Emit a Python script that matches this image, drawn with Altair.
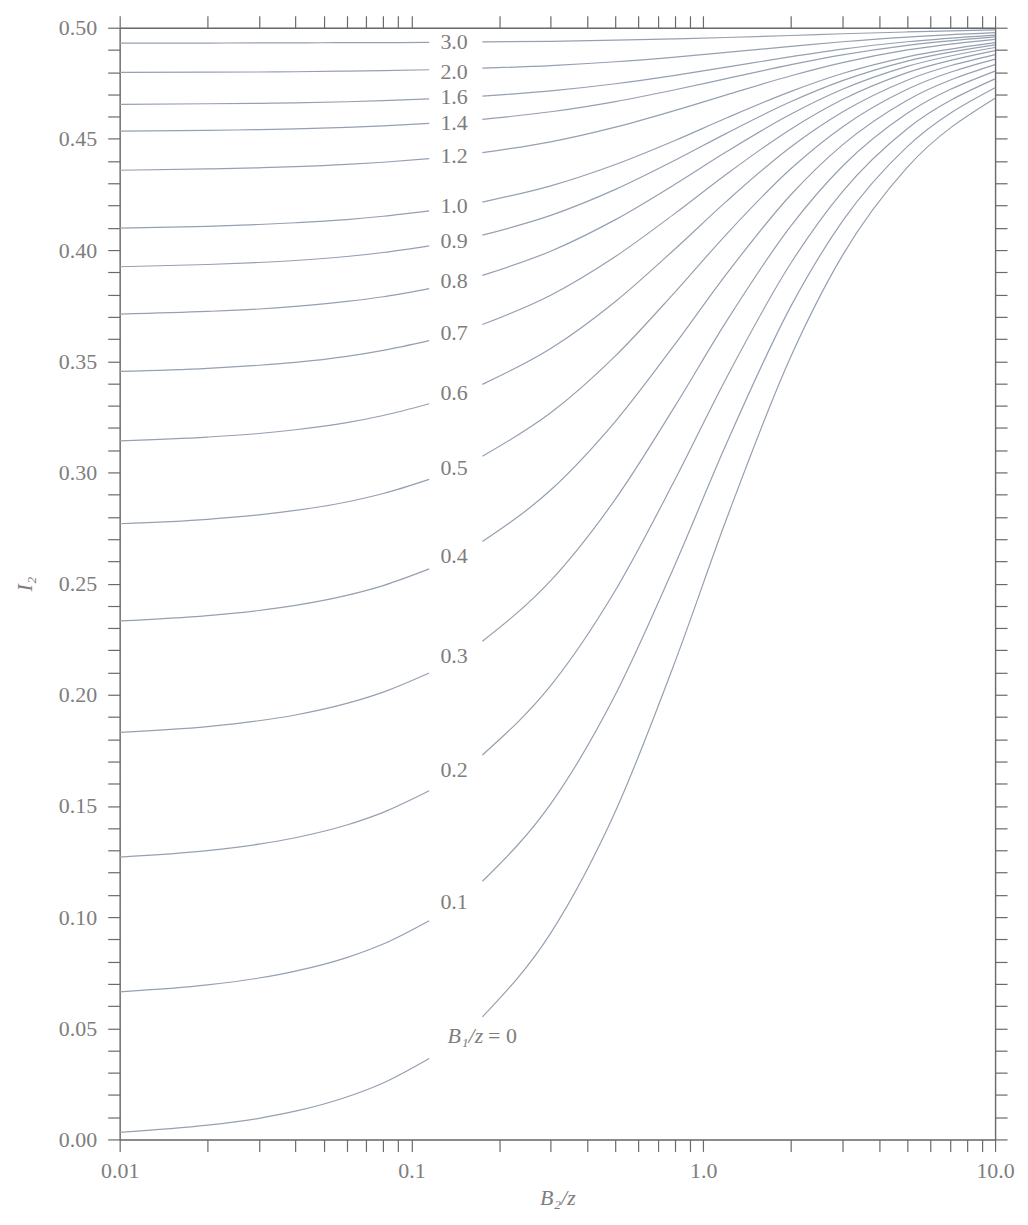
import altair as alt
import pandas as pd

# ---- data ----
B1_RATIOS = ["0", "0.1", "0.2", "0.3", "0.4", "0.5", "0.6", "0.7", "0.8",
             "0.9", "1.0", "1.2", "1.4", "1.6", "2.0", "3.0"]

# B2/z positions, left of the label gap and right of it
B2_LEFT = [0.01, 0.02, 0.03, 0.04, 0.06, 0.08, 0.115]
B2_RIGHT = [0.175, 0.3, 0.5, 0.8, 1.2, 2.0, 3.0, 5.0, 10.0]

I2_LEFT = [
    [0.0032, 0.0064, 0.0095, 0.0127, 0.0191, 0.0254, 0.0364],
    [0.0664, 0.0695, 0.0726, 0.0757, 0.0818, 0.0879, 0.0984],
    [0.1270, 0.1299, 0.1328, 0.1357, 0.1414, 0.1471, 0.1568],
    [0.1831, 0.1857, 0.1883, 0.1909, 0.1961, 0.2012, 0.2098],
    [0.2332, 0.2356, 0.2379, 0.2402, 0.2447, 0.2491, 0.2566],
    [0.2769, 0.2789, 0.2809, 0.2829, 0.2867, 0.2905, 0.2969],
    [0.3142, 0.3159, 0.3175, 0.3192, 0.3224, 0.3256, 0.3309],
    [0.3454, 0.3468, 0.3482, 0.3495, 0.3522, 0.3549, 0.3593],
    [0.3712, 0.3724, 0.3735, 0.3747, 0.3769, 0.3790, 0.3827],
    [0.3925, 0.3935, 0.3944, 0.3953, 0.3971, 0.3989, 0.4019],
    [0.4099, 0.4107, 0.4115, 0.4123, 0.4137, 0.4152, 0.4176],
    [0.4359, 0.4365, 0.4370, 0.4375, 0.4385, 0.4395, 0.4411],
    [0.4535, 0.4538, 0.4542, 0.4545, 0.4552, 0.4559, 0.4570],
    [0.4655, 0.4658, 0.4660, 0.4662, 0.4667, 0.4672, 0.4680],
    [0.4799, 0.4800, 0.4801, 0.4802, 0.4805, 0.4807, 0.4811],
    [0.4931, 0.4931, 0.4932, 0.4932, 0.4933, 0.4933, 0.4934],
]

I2_RIGHT = [
    [0.0551, 0.0928, 0.1476, 0.2148, 0.2789, 0.3524, 0.3976, 0.4372, 0.4683],
    [0.1161, 0.1509, 0.2001, 0.2585, 0.3129, 0.3749, 0.4130, 0.4465, 0.4730],
    [0.1729, 0.2041, 0.2470, 0.2968, 0.3425, 0.3943, 0.4263, 0.4546, 0.4770],
    [0.2241, 0.2513, 0.2880, 0.3298, 0.3679, 0.4110, 0.4377, 0.4615, 0.4805],
    [0.2689, 0.2921, 0.3230, 0.3577, 0.3892, 0.4250, 0.4473, 0.4674, 0.4834],
    [0.3073, 0.3268, 0.3524, 0.3811, 0.4071, 0.4367, 0.4554, 0.4723, 0.4859],
    [0.3396, 0.3557, 0.3769, 0.4005, 0.4219, 0.4465, 0.4621, 0.4764, 0.4879],
    [0.3665, 0.3797, 0.3971, 0.4165, 0.4341, 0.4545, 0.4677, 0.4798, 0.4897],
    [0.3886, 0.3995, 0.4137, 0.4296, 0.4442, 0.4612, 0.4723, 0.4826, 0.4911],
    [0.4067, 0.4156, 0.4273, 0.4404, 0.4525, 0.4668, 0.4762, 0.4850, 0.4923],
    [0.4216, 0.4289, 0.4385, 0.4493, 0.4594, 0.4714, 0.4794, 0.4869, 0.4933],
    [0.4438, 0.4487, 0.4553, 0.4628, 0.4698, 0.4784, 0.4843, 0.4900, 0.4948],
    [0.4588, 0.4622, 0.4668, 0.4721, 0.4771, 0.4834, 0.4878, 0.4921, 0.4959],
    [0.4692, 0.4716, 0.4748, 0.4786, 0.4823, 0.4870, 0.4904, 0.4937, 0.4967],
    [0.4818, 0.4830, 0.4847, 0.4868, 0.4889, 0.4916, 0.4937, 0.4958, 0.4978],
    [0.4936, 0.4939, 0.4944, 0.4950, 0.4956, 0.4965, 0.4973, 0.4981, 0.4990],
]

# curve labels (placed in the gap of each curve)
LABEL_TEXT = ["0.1", "0.2", "0.3", "0.4", "0.5", "0.6", "0.7", "0.8", "0.9",
              "1.0", "1.2", "1.4", "1.6", "2.0", "3.0"]
LABEL_B2 = [0.14] * 15
LABEL_I2 = [0.1070, 0.1660, 0.2175, 0.2625, 0.3020, 0.3355, 0.3625, 0.3860,
            0.4040, 0.4200, 0.4425, 0.4570, 0.4690, 0.4800, 0.4935]
ZERO_LABEL_B = ["B\u2081/z"]
ZERO_LABEL_REST = ["= 0"]
ZERO_LABEL_B2 = [0.133]
ZERO_LABEL_REST_B2 = [0.183]
ZERO_LABEL_I2 = [0.0466]

X_TICKS = [0.01, 0.02, 0.03, 0.04, 0.05, 0.06, 0.07, 0.08, 0.09,
           0.1, 0.2, 0.3, 0.4, 0.5, 0.6, 0.7, 0.8, 0.9,
           1, 2, 3, 4, 5, 6, 7, 8, 9, 10]
Y_TICKS = [round(0.01 * i, 2) for i in range(51)]

# ---- styling ----
FONT = "Liberation Serif, Times New Roman, serif"
AXIS_COLOR = "#6a6a6a"
TEXT_COLOR = "#7e7e7e"
CURVE_COLOR = "#95a0b0"
FS = 22

rows = []
for name, lv, rv in zip(B1_RATIOS, I2_LEFT, I2_RIGHT):
    for b, v in zip(B2_LEFT, lv):
        rows.append({"curve": name, "seg": name + "-L", "b": b, "i2": v})
    for b, v in zip(B2_RIGHT, rv):
        rows.append({"curve": name, "seg": name + "-R", "b": b, "i2": v})
df = pd.DataFrame(rows)

labels_df = pd.DataFrame({"label": LABEL_TEXT, "b": LABEL_B2, "i2": LABEL_I2})
zero_b_df = pd.DataFrame({"label": ZERO_LABEL_B, "b": ZERO_LABEL_B2, "i2": ZERO_LABEL_I2})
zero_rest_df = pd.DataFrame({"label": ZERO_LABEL_REST, "b": ZERO_LABEL_REST_B2,
                             "i2": ZERO_LABEL_I2})

x_scale = alt.Scale(type="log", domain=[0.01, 10])
y_scale = alt.Scale(domain=[0, 0.5])

common = dict(
    tickSize=12, tickColor=AXIS_COLOR, tickWidth=1.2,
    domainColor=AXIS_COLOR, domainWidth=1.4, grid=False,
)

X_LABEL_EXPR = ("datum.value == 0.01 ? '0.01' : datum.value == 0.1 ? '0.1' : "
                "datum.value == 1 ? '1.0' : datum.value == 10 ? '10.0' : ''")
Y_LABEL_EXPR = "(round(datum.value * 100) % 5 == 0) ? format(datum.value, '.2f') : ''"

x_bottom = alt.Axis(
    orient="bottom", values=X_TICKS, labelExpr=X_LABEL_EXPR,
    labelFont=FONT, labelFontSize=FS, labelColor=TEXT_COLOR, labelPadding=9,
    labelFlush=False, labelOverlap=False,
    title="B\u2082/z", titleFont=FONT, titleFontSize=FS, titleFontStyle="italic",
    titleFontWeight="normal", titleColor=TEXT_COLOR, titlePadding=6, **common)
y_left = alt.Axis(
    orient="left", values=Y_TICKS, labelExpr=Y_LABEL_EXPR,
    labelFont=FONT, labelFontSize=FS, labelColor=TEXT_COLOR, labelPadding=11,
    labelFlush=False, labelOverlap=False,
    title="I\u2082", titleFont=FONT, titleFontSize=FS, titleFontStyle="italic",
    titleFontWeight="normal", titleColor=TEXT_COLOR, titlePadding=22, **common)
x_top = alt.Axis(orient="top", values=X_TICKS, labels=False, title=None, **common)
y_right = alt.Axis(orient="right", values=Y_TICKS, labels=False, title=None, **common)

lines = alt.Chart(df).mark_line(
    color=CURVE_COLOR, strokeWidth=1.2, interpolate="monotone"
).encode(
    x=alt.X("b:Q", scale=x_scale, axis=x_bottom),
    y=alt.Y("i2:Q", scale=y_scale, axis=y_left),
    detail="seg:N",
    order="b:Q",
)

mirror = alt.Chart(df).mark_line(strokeOpacity=0).encode(
    x=alt.X("b:Q", scale=x_scale, axis=x_top),
    y=alt.Y("i2:Q", scale=y_scale, axis=y_right),
    detail="seg:N",
)

curve_labels = alt.Chart(labels_df).mark_text(
    font=FONT, fontSize=FS, color=TEXT_COLOR, align="center", baseline="middle"
).encode(
    x=alt.X("b:Q", scale=x_scale, axis=None),
    y=alt.Y("i2:Q", scale=y_scale, axis=None),
    text="label:N",
)

zero_label_b = alt.Chart(zero_b_df).mark_text(
    font=FONT, fontSize=FS, color=TEXT_COLOR, align="left", baseline="middle",
    fontStyle="italic"
).encode(
    x=alt.X("b:Q", scale=x_scale, axis=None),
    y=alt.Y("i2:Q", scale=y_scale, axis=None),
    text="label:N",
)

zero_label_rest = alt.Chart(zero_rest_df).mark_text(
    font=FONT, fontSize=FS, color=TEXT_COLOR, align="left", baseline="middle"
).encode(
    x=alt.X("b:Q", scale=x_scale, axis=None),
    y=alt.Y("i2:Q", scale=y_scale, axis=None),
    text="label:N",
)

chart = alt.layer(lines, mirror, curve_labels, zero_label_b, zero_label_rest).resolve_axis(
    x="independent", y="independent"
).properties(
    width=878, height=1115
).configure_view(strokeWidth=0).configure(background="white")

chart.save("out.html", embed_options={"renderer": "svg", "actions": False})
